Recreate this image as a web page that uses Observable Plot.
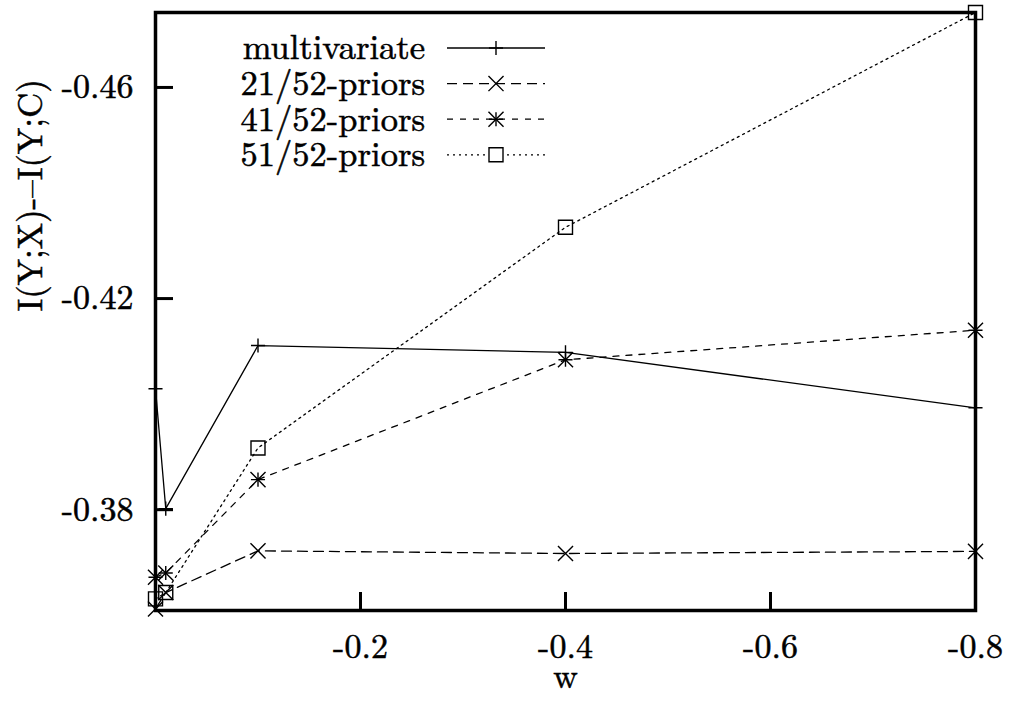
<!DOCTYPE html>
<html><head><meta charset="utf-8">
<script src="https://cdn.jsdelivr.net/npm/d3@7"></script>
<script src="https://cdn.jsdelivr.net/npm/@observablehq/plot@0.6"></script>
<style>
html,body{margin:0;padding:0;background:#fff;}
#wrap{position:relative;width:1010px;height:701px;}
#wrap svg{display:block;}
#wrap text{stroke:black;stroke-width:0.55px;}
#legend{position:absolute;left:0;top:0;pointer-events:none;}
</style></head><body><div id="wrap"></div>
<script>
// ---- data ----
const w = [0, -0.01, -0.1, -0.4, -0.8];
const seriesNames = ["multivariate", "21/52-priors", "41/52-priors", "51/52-priors"];
const multivariate = [-0.4029, -0.3802, -0.4111, -0.4098, -0.3993];
const priors21 = [-0.3612, -0.3643, -0.3722, -0.3717, -0.3721];
const priors41 = [-0.3672, -0.3680, -0.3857, -0.4084, -0.4140];
const priors51 = [-0.3631, -0.3643, -0.3917, -0.4335, -0.4742];
const xTicks = [-0.2, -0.4, -0.6, -0.8];
const yTicks = [-0.38, -0.42, -0.46];
const xLabel = "w";
const yLabel = "I(Y;X)-–I(Y;C)";

// ---- styles ----
const seriesValues = [multivariate, priors21, priors41, priors51];
const dashes = [null, "10,6", "6,7", "2,4"];
const symbols = [["plus"], ["times"], ["plus", "times"], ["square"]];
const symR = {plus: 4.6, times: 6.9, square: 7.9};
const font = "'Latin Modern Roman', 'Liberation Serif', serif";
const xFmt = d => "-" + Math.abs(d).toFixed(1);
const yFmt = d => "-" + Math.abs(d).toFixed(2);

const rows = [];
seriesValues.forEach((vals, i) => vals.forEach((v, j) => rows.push({series: seriesNames[i], i, w: w[j], value: v})));

const marks = [Plot.frame({stroke: "black", strokeWidth: 3.5})];
seriesNames.forEach((name, i) => {
  const d = rows.filter(r => r.i === i);
  marks.push(Plot.line(d, {x: "w", y: "value", stroke: "black", strokeWidth: 1.3, strokeDasharray: dashes[i]}));
});
seriesNames.forEach((name, i) => {
  const d = rows.filter(r => r.i === i);
  symbols[i].forEach(s => {
    marks.push(Plot.dot(d, {x: "w", y: "value", symbol: s, r: symR[s], stroke: "black", fill: "none", strokeWidth: 1.4}));
  });
});
marks.push(Plot.axisX({ticks: xTicks, tickSize: -18, tickPadding: 41, tickFormat: xFmt, strokeWidth: 3, fontSize: 34, label: null}));
marks.push(Plot.axisY({ticks: yTicks, tickSize: -18, tickPadding: 40, tickFormat: yFmt, strokeWidth: 3, fontSize: 34, label: null}));
marks.push(Plot.text([xLabel], {frameAnchor: "bottom", dy: 77, fontSize: 34, text: d => d}));
marks.push(Plot.text([yLabel], {frameAnchor: "left", dx: -125, rotate: -90, fontSize: 35, text: d => d}));

const chart = Plot.plot({
  width: 1010, height: 701,
  marginLeft: 155, marginRight: 35, marginTop: 12, marginBottom: 91,
  x: {domain: [0, -0.8]},
  y: {domain: [-0.3609, -0.4742]},
  style: {fontFamily: font, fontSize: "34px", color: "black", background: "white"},
  marks
});
const wrap = document.getElementById("wrap");
wrap.appendChild(chart);

// ---- legend (inside the plot frame, top-left) ----
const leg = d3.select(wrap).append("svg").attr("id", "legend").attr("width", 1010).attr("height", 701);
const symD3 = {plus: d3.symbolPlus, times: d3.symbolTimes, square: d3.symbolSquare};
seriesNames.forEach((name, i) => {
  const y = 48 + i * 35.6;
  leg.append("text").attr("x", 425).attr("y", y).attr("text-anchor", "end").attr("dy", "0.33em")
    .style("font-family", font).attr("font-size", 34.5).text(name);
  leg.append("line").attr("x1", 447).attr("x2", 545).attr("y1", y).attr("y2", y)
    .attr("stroke", "black").attr("stroke-width", 1.3).attr("stroke-dasharray", dashes[i]);
  symbols[i].forEach(s => {
    leg.append("path").attr("transform", `translate(496,${y})`)
      .attr("d", d3.symbol(symD3[s], Math.PI * symR[s] * symR[s])())
      .attr("fill", s === "square" ? "white" : "none").attr("stroke", "black").attr("stroke-width", 1.4);
  });
});
</script></body></html>
